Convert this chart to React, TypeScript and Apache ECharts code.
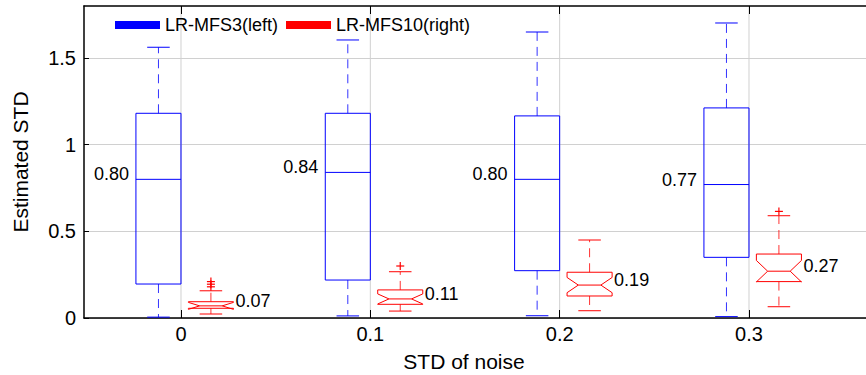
import React, { useEffect, useRef } from "react";
import * as echarts from "echarts";

// ---------- data ----------
const noiseLevels = [0, 0.1, 0.2, 0.3];
const xTickLabels = ["0", "0.1", "0.2", "0.3"];
const yTickValues = [0, 0.5, 1, 1.5];
const seriesNames = ["LR-MFS3(left)", "LR-MFS10(right)"];

// LR-MFS3 (left, blue, plain box)
const mfs3Min = [0.005, 0.012, 0.013, 0.008];
const mfs3Q1 = [0.196, 0.219, 0.273, 0.35];
const mfs3Median = [0.8, 0.84, 0.8, 0.77];
const mfs3Q3 = [1.181, 1.181, 1.166, 1.212];
const mfs3Max = [1.562, 1.604, 1.65, 1.702];

// LR-MFS10 (right, red, notched box)
const mfs10Min = [0.023, 0.04, 0.042, 0.065];
const mfs10Q1 = [0.056, 0.079, 0.127, 0.21];
const mfs10Median = [0.07, 0.11, 0.19, 0.27];
const mfs10Q3 = [0.094, 0.162, 0.264, 0.369];
const mfs10Max = [0.157, 0.267, 0.45, 0.59];
const mfs10NotchLow = [0.05, 0.081, 0.146, 0.208];
const mfs10NotchHigh = [0.09, 0.139, 0.234, 0.332];
const mfs10Outliers = [[0.21, 0.195, 0.18], [0.3], [], [0.615]];

const BLUE = "#0000ff";
const RED = "#ff0000";
const FONT = "'Liberation Sans', Arial, Helvetica, sans-serif";

export default function App() {
  const ref = useRef<HTMLDivElement>(null);

  useEffect(() => {
    const chart = echarts.init(ref.current!, null, { renderer: "svg" });

    const X_MIN = -0.05123;
    const X_MAX = 0.37236;
    const BOX_W = 0.0238;
    const LEFT_OFF = -0.0119;
    const RIGHT_OFF = 0.0158;

    const makeRender =
      (color: string, offset: number, notched: boolean, side: "left" | "right", outliers: number[][]) =>
      (params: any, api: any) => {
        const x = api.value(0) + offset;
        const mn = api.value(1);
        const q1 = api.value(2);
        const md = api.value(3);
        const q3 = api.value(4);
        const mx = api.value(5);
        const nl = api.value(6);
        const nh = api.value(7);
        const cx = api.coord([x, md])[0];
        const hw = api.size([BOX_W, 0])[0] / 2;
        const y = (v: number) => api.coord([x, v])[1];
        const x0 = cx - hw;
        const x1 = cx + hw;
        const ind = notched ? hw / 2 : 0;
        const children: any[] = [];
        const dash = [9, 6];

        // whiskers
        children.push({
          type: "line",
          shape: { x1: cx, y1: y(q3), x2: cx, y2: y(mx) },
          style: { stroke: color, lineWidth: 1, lineDash: dash, opacity: 0.8 },
        });
        children.push({
          type: "line",
          shape: { x1: cx, y1: y(q1), x2: cx, y2: y(mn) },
          style: { stroke: color, lineWidth: 1, lineDash: dash, opacity: 0.8 },
        });
        // caps
        children.push({
          type: "line",
          shape: { x1: cx - hw / 2, y1: y(mx), x2: cx + hw / 2, y2: y(mx) },
          style: { stroke: color, lineWidth: 1 },
        });
        children.push({
          type: "line",
          shape: { x1: cx - hw / 2, y1: y(mn), x2: cx + hw / 2, y2: y(mn) },
          style: { stroke: color, lineWidth: 1 },
        });
        // box
        let pts: number[][];
        if (notched) {
          pts = [
            [x0, y(q3)],
            [x0, y(nh)],
            [x0 + ind, y(md)],
            [x0, y(nl)],
            [x0, y(q1)],
            [x1, y(q1)],
            [x1, y(nl)],
            [x1 - ind, y(md)],
            [x1, y(nh)],
            [x1, y(q3)],
          ];
        } else {
          pts = [
            [x0, y(q3)],
            [x0, y(q1)],
            [x1, y(q1)],
            [x1, y(q3)],
          ];
        }
        children.push({
          type: "polygon",
          shape: { points: pts },
          style: { fill: "none", stroke: color, lineWidth: 1 },
        });
        // median
        children.push({
          type: "line",
          shape: { x1: x0 + ind, y1: y(md), x2: x1 - ind, y2: y(md) },
          style: { stroke: color, lineWidth: 1 },
        });
        // outliers
        const outs = outliers[params.dataIndex] || [];
        const ps = 4;
        outs.forEach((o) => {
          const oy = y(o);
          children.push({
            type: "line",
            shape: { x1: cx - ps, y1: oy, x2: cx + ps, y2: oy },
            style: { stroke: color, lineWidth: 1.2 },
          });
          children.push({
            type: "line",
            shape: { x1: cx, y1: oy - ps, x2: cx, y2: oy + ps },
            style: { stroke: color, lineWidth: 1.2 },
          });
        });
        // median label
        children.push({
          type: "text",
          x: side === "left" ? x0 - 7 : x1 + 2,
          y: y(md) - 5,
          style: {
            text: md.toFixed(2),
            fill: "#000",
            font: `18px ${FONT}`,
            align: side === "left" ? "right" : "left",
            verticalAlign: "middle",
          },
        });
        return { type: "group", children };
      };

    const mfs3Data = noiseLevels.map((n, i) => [
      n, mfs3Min[i], mfs3Q1[i], mfs3Median[i], mfs3Q3[i], mfs3Max[i], mfs3Q1[i], mfs3Q3[i],
    ]);
    const mfs10Data = noiseLevels.map((n, i) => [
      n, mfs10Min[i], mfs10Q1[i], mfs10Median[i], mfs10Q3[i], mfs10Max[i], mfs10NotchLow[i], mfs10NotchHigh[i],
    ]);

    const xLabel = (v: number) => {
      const idx = noiseLevels.findIndex((n) => Math.abs(n - v) < 1e-9);
      return idx >= 0 ? xTickLabels[idx] : String(v);
    };

    chart.setOption({
      animation: false,
      grid: { left: 84, right: -20, top: 6, bottom: 57, containLabel: false, outerBoundsMode: "none" },
      legend: {
        data: seriesNames,
        left: 115,
        top: 16,
        icon: "rect",
        itemWidth: 45,
        itemHeight: 8,
        itemGap: 8,
        padding: 0,
        textStyle: { fontSize: 18, color: "#000", fontFamily: FONT },
      },
      xAxis: [
        {
          type: "value",
          position: "bottom",
          min: X_MIN,
          max: X_MAX,
          axisLine: { show: true, onZero: false, lineStyle: { color: "#000", width: 1.5 } },
          axisTick: { show: true, inside: true, length: 8, customValues: noiseLevels, lineStyle: { color: "#000" } },
          axisLabel: {
            customValues: noiseLevels,
            formatter: xLabel,
            fontSize: 20,
            color: "#000",
            fontFamily: FONT,
            margin: 6,
          },
          splitLine: { show: false },
          name: "STD of noise",
          nameLocation: "middle",
          nameGap: 33,
          nameTextStyle: { fontSize: 21, color: "#000", fontFamily: FONT, padding: [0, 42, 0, 0] },
        },
        {
          type: "value",
          position: "top",
          min: X_MIN,
          max: X_MAX,
          axisLine: { show: true, onZero: false, lineStyle: { color: "#000", width: 1.5 } },
          axisTick: { show: true, inside: true, length: 8, customValues: noiseLevels, lineStyle: { color: "#000" } },
          axisLabel: { show: false },
          splitLine: { show: false },
        },
      ],
      yAxis: {
        type: "value",
        min: 0,
        max: 1.8,
        interval: 0.5,
        axisLine: { show: true, onZero: false, lineStyle: { color: "#000", width: 1.5 } },
        axisTick: { show: true, inside: true, length: 5, customValues: yTickValues, lineStyle: { color: "#000" } },
        axisLabel: {
          customValues: yTickValues,
          formatter: (v: number) => String(v),
          fontSize: 20,
          color: "#000",
          fontFamily: FONT,
          margin: 8,
        },
        splitLine: { show: true, lineStyle: { color: "#d0d0d0", width: 1 } },
        name: "Estimated STD",
        nameLocation: "middle",
        nameRotate: 90,
        nameGap: 53,
        nameTextStyle: { fontSize: 21, color: "#000", fontFamily: FONT },
      },
      series: [
        {
          type: "custom",
          name: "grid",
          silent: true,
          z: 0,
          data: noiseLevels.map((n) => [n]),
          renderItem: (params: any, api: any) => {
            const cs = params.coordSys;
            const px = api.coord([api.value(0), 0])[0];
            return {
              type: "line",
              shape: { x1: px, y1: cs.y, x2: px, y2: cs.y + cs.height },
              style: { stroke: "#d0d0d0", lineWidth: 1 },
            };
          },
          encode: { x: 0 },
        },
        {
          type: "custom",
          name: seriesNames[0],
          z: 2,
          itemStyle: { color: BLUE },
          data: mfs3Data,
          encode: { x: 0, y: [1, 2, 3, 4, 5] },
          renderItem: makeRender(BLUE, LEFT_OFF, false, "left", [[], [], [], []]),
        },
        {
          type: "custom",
          name: seriesNames[1],
          z: 2,
          itemStyle: { color: RED },
          data: mfs10Data,
          encode: { x: 0, y: [1, 2, 3, 4, 5] },
          renderItem: makeRender(RED, RIGHT_OFF, true, "right", mfs10Outliers),
        },
      ],
    });

    return () => chart.dispose();
  }, []);

  return (
    <div
      ref={ref}
      style={{ position: "absolute", left: 0, top: 0, width: 866, height: 375, background: "#fff" }}
    />
  );
}
